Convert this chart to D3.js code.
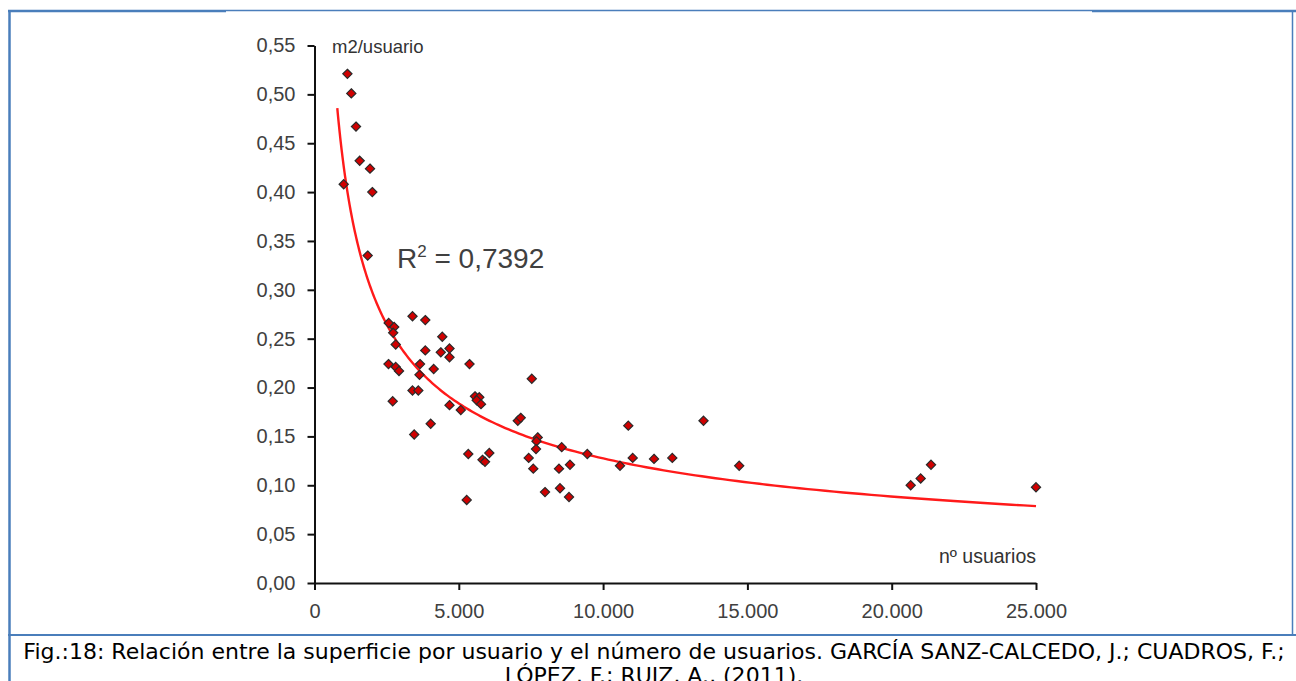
<!DOCTYPE html>
<html>
<head>
<meta charset="utf-8">
<script src="https://cdn.jsdelivr.net/npm/d3@7"></script>
<style>
  body { margin: 0; background: #fff; }
  svg { display: block; }
</style>
</head>
<body>
<div id="chart"></div>
<script>
// number of users per centre (x) and floor area per user (y)
const usuarios = [1140, 1275, 1438, 1566, 1923, 1012, 2003, 1843,
    3396, 3839, 2571, 2762, 2727, 2814, 4428, 3839, 4376, 4678,
    4678, 5371, 2564, 2814, 2928, 3656, 4130, 3638, 3396, 3597,
    2710, 4678, 5069, 4026, 3455, 5561, 5710, 5620, 5769, 7529,
    7044, 7145, 7734, 7692, 7675, 7422, 7581, 7987, 5329, 5821,
    5908, 6057, 5274, 8566, 9453, 10873, 11026, 11764, 12398, 13479,
    14716, 10586, 8472, 8853, 8507, 8819, 20658, 21004, 21362, 25000];
const m2PorUsuario = [0.521, 0.501, 0.467, 0.432, 0.424, 0.408, 0.400, 0.335,
    0.273, 0.269, 0.266, 0.262, 0.256, 0.244, 0.252, 0.238, 0.236, 0.240,
    0.231, 0.224, 0.224, 0.221, 0.217, 0.224, 0.219, 0.213, 0.197, 0.197,
    0.186, 0.182, 0.177, 0.163, 0.152, 0.191, 0.190, 0.187, 0.183, 0.209,
    0.166, 0.169, 0.149, 0.145, 0.137, 0.128, 0.117, 0.093, 0.132, 0.126,
    0.124, 0.133, 0.085, 0.139, 0.132, 0.161, 0.128, 0.127, 0.128, 0.166,
    0.120, 0.120, 0.117, 0.121, 0.097, 0.088, 0.100, 0.107, 0.121, 0.098];

// tick values
const xTicks = [0, 5000, 10000, 15000, 20000, 25000];
const yTicks = [0, 0.05, 0.10, 0.15, 0.20, 0.25, 0.30, 0.35, 0.40, 0.45, 0.50, 0.55];

// power trend line y = a * x^-b, as shown in the figure (R2 = 0,7392)
const trendA = 16.35;
const trendB = 0.527;
const trendRange = [790, 25000];
const r2Text = "0,7392";

const captionLines = [
    "Fig.:18: Relación entre la superficie por usuario y el número de usuarios. GARCÍA SANZ-CALCEDO, J.; CUADROS, F.;",
    "LÓPEZ, F.; RUIZ, A., (2011)."
];

const width = 1296, height = 681;
const blue = "#4a7ebb";
const labelFont = "'Liberation Sans', Arial, sans-serif";

let svg = d3.select("#chart").append("svg")
    .attr("width", width)
    .attr("height", height);

// spanish number formats: 0,55 and 25.000
const es = d3.formatLocale({decimal: ",", thousands: ".", grouping: [3], currency: ["", " €"]});

let x = d3.scaleLinear().domain([0, 25000]).range([314.5, 1036]);
let y = d3.scaleLinear().domain([0, 0.55]).range([583, 45.5]);

// frame of the figure box
let frame = svg.append("g").attr("fill", "none").attr("stroke", blue);
frame.append("line").attr("x1", 8).attr("x2", 226).attr("y1", 11).attr("y2", 11).attr("stroke-width", 2.5);
frame.append("line").attr("x1", 226).attr("x2", 1092).attr("y1", 10.5).attr("y2", 10.5).attr("stroke-width", 1.5);
frame.append("line").attr("x1", 1092).attr("x2", width).attr("y1", 11).attr("y2", 11).attr("stroke-width", 2.5);
frame.append("line").attr("x1", 9.5).attr("x2", 9.5).attr("y1", 10).attr("y2", height).attr("stroke-width", 2.5);
frame.append("line").attr("x1", 1292.5).attr("x2", 1292.5).attr("y1", 10).attr("y2", 635).attr("stroke-width", 1.5);
frame.append("line").attr("x1", 8).attr("x2", width).attr("y1", 635).attr("y2", 635).attr("stroke-width", 2);

// axes
let yAxis = d3.axisLeft(y)
    .tickValues(yTicks)
    .tickFormat(es.format(".2f"))
    .tickSize(7)
    .tickSizeOuter(0)
    .tickPadding(12);

let xAxis = d3.axisBottom(x)
    .tickValues(xTicks)
    .tickFormat(es.format(",d"))
    .tickSize(7)
    .tickSizeOuter(0)
    .tickPadding(14);

let gy = svg.append("g")
    .attr("transform", `translate(${x(0)},0)`)
    .call(yAxis);
let gx = svg.append("g")
    .attr("transform", `translate(0,${y(0)})`)
    .call(xAxis);

[gx, gy].forEach(g => {
    g.selectAll(".domain, .tick line").attr("stroke", "#111").attr("stroke-width", 2);
    g.selectAll("text")
        .attr("fill", "#404040")
        .style("font-family", labelFont)
        .style("font-size", "20px");
});

// axis titles
svg.append("text")
    .attr("x", 332).attr("y", 53)
    .attr("fill", "#333")
    .style("font-family", labelFont)
    .style("font-size", "18.5px")
    .text("m2/usuario");

svg.append("text")
    .attr("x", 1036).attr("y", 563)
    .attr("text-anchor", "end")
    .attr("fill", "#333")
    .style("font-family", labelFont)
    .style("font-size", "19.5px")
    .text("nº usuarios");

// trend line
let trendX = d3.range(0, 201).map(i => trendRange[0] * Math.pow(trendRange[1] / trendRange[0], i / 200));
let line = d3.line()
    .x(d => x(d))
    .y(d => y(trendA * Math.pow(d, -trendB)));

svg.append("path")
    .datum(trendX)
    .attr("d", line)
    .attr("fill", "none")
    .attr("stroke", "#ff1a1a")
    .attr("stroke-width", 2.4);

// points as small diamonds
let points = usuarios.map((u, i) => ({u: u, m: m2PorUsuario[i]}));
svg.selectAll(".pt")
    .data(points)
    .enter().append("path")
    .attr("class", "pt")
    .attr("d", "M0,-4.6L4.6,0L0,4.6L-4.6,0Z")
    .attr("transform", d => `translate(${x(d.u)},${y(d.m)})`)
    .attr("fill", "#d00000")
    .attr("stroke", "#2a2a2a")
    .attr("stroke-width", 1.2);

// R squared label
let r2 = svg.append("text")
    .attr("x", 397).attr("y", 268)
    .attr("fill", "#404040")
    .style("font-family", labelFont)
    .style("font-size", "28px");
r2.append("tspan").text("R");
r2.append("tspan").attr("dy", -11).style("font-size", "17px").text("2");
r2.append("tspan").attr("dy", 11).text(" = " + r2Text);

// caption under the figure (second line is cut by the picture edge)
let caption = svg.append("g")
    .attr("fill", "#000")
    .style("font-family", "Verdana, 'DejaVu Sans', sans-serif");
captionLines.forEach((t, i) => {
    caption.append("text")
        .attr("x", 654)
        .attr("y", 659 + i * 24)
        .attr("text-anchor", "middle")
        .style("font-size", "16px")
        .text(t);
});
// fit the first caption line to the width it has in the figure
let capLen = caption.select("text").node().getComputedTextLength();
let capSize = 16 * 1262 / capLen;
caption.selectAll("text").style("font-size", capSize + "px");
</script>
</body>
</html>
